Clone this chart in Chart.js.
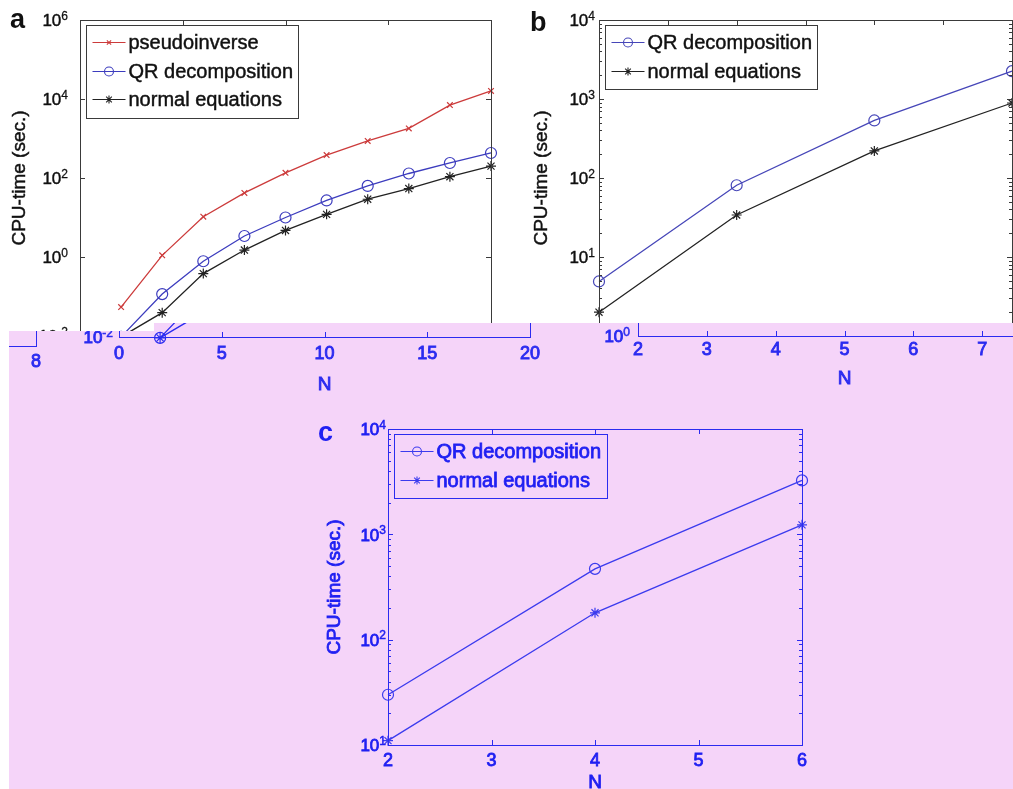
<!DOCTYPE html>
<html>
<head>
<meta charset="utf-8">
<script src="https://cdn.jsdelivr.net/npm/chart.js@4.4.0/dist/chart.umd.min.js"></script>
<style>
html, body { margin: 0; padding: 0; background: #fff; }
#page { position: relative; width: 1013px; height: 789px; overflow: hidden; background: #fff; }
#page canvas { position: absolute; }
#pink { position: absolute; left: 0; top: 0; width: 1013px; height: 789px; background: #f5d4f9;
  clip-path: polygon(154px 323px, 1013px 323px, 1013px 789px, 9px 789px, 9px 331px, 154px 331px); }
</style>
</head>
<body>
<div id="page">
  <canvas id="ca"></canvas>
  <canvas id="cb"></canvas>
  <div id="pink">
    <canvas id="ca2"></canvas>
    <canvas id="cb2"></canvas>
    <canvas id="cb3"></canvas>
    <canvas id="cc"></canvas>
  </div>
</div>
<script>
// panel a : N = 2..20
const nA = [2, 4, 6, 8, 10, 12, 14, 16, 18, 20];
const pinvA = [0.054, 1.1, 10.5, 42, 135, 380, 870, 1800, 7000, 16000];
const qrA = [0.0095, 0.115, 0.78, 3.4, 10, 27, 63, 130, 240, 430];
const normA = [0.0095, 0.039, 0.38, 1.5, 4.7, 12, 29, 54, 108, 200];
const xTicksA = [0, 5, 10, 15, 20];
const yTicksA = [1e-2, 1, 1e2, 1e4, 1e6];

// panel b : N = 2..8
const nB = [2, 4, 6, 8];
const qrB = [4.9, 81, 535, 2250];
const normB = [2.0, 34, 220, 890];
const xTicksB = [2, 3, 4, 5, 6, 7, 8];
const yTicksB = [1, 10, 100, 1000, 1e4];

// panel c : N = 2..6
const nC = [2, 4, 6];
const qrC = [30, 470, 3250];
const normC = [11, 180, 1230];
const xTicksC = [2, 3, 4, 5, 6];
const yTicksC = [10, 100, 1000, 1e4];

const FONT = '"Liberation Sans", Arial, Helvetica, sans-serif';
const PADL = 110, PADT = 40, PADR = 30, PADB = 70;
const BLUE = '#2b2bf0';
const panelCfg = {};

function pts(xs, ys) {
  return xs.map((x, i) => ({ x: x, y: ys[i] }));
}

function series(label, xs, ys, color, style, r) {
  return {
    label: label,
    data: pts(xs, ys),
    borderColor: color,
    backgroundColor: color,
    borderWidth: 1.3,
    pointStyle: style,
    pointRadius: r,
    pointBorderWidth: 1.2,
    pointBorderColor: color,
    pointBackgroundColor: 'rgba(0,0,0,0)',
    tension: 0,
    fill: false,
    clip: false
  };
}

// text with a thin outline so it reads as heavy as the scanned figure
function txt(ctx, s, x, y, heavy) {
  ctx.fillText(s, x, y);
  if (heavy > 0) {
    ctx.lineWidth = heavy;
    ctx.strokeStyle = ctx.fillStyle;
    ctx.strokeText(s, x, y);
  }
}

function drawPow(ctx, v, x, y, fs, col, heavy) {
  const es = String(Math.round(Math.log10(v)));
  ctx.fillStyle = col;
  ctx.textAlign = 'right';
  ctx.font = Math.round(fs * 0.7) + 'px ' + FONT;
  const ew = ctx.measureText(es).width;
  ctx.textBaseline = 'alphabetic';
  txt(ctx, es, x, y - 0.5, heavy * 0.6);
  ctx.font = fs + 'px ' + FONT;
  ctx.textBaseline = 'middle';
  txt(ctx, '10', x - ew, y + 1.5, heavy);
}

function marker(ctx, style, r, x, y) {
  ctx.fillStyle = 'rgba(0,0,0,0)';
  ctx.lineWidth = 1.1;
  Chart.helpers.drawPoint(ctx, { pointStyle: style, radius: r, rotation: 0, borderWidth: 1.1 }, x, y);
}

const boxPlugin = {
  id: 'matlabBox',
  afterDatasetsDraw(chart) {
    const p = panelCfg[chart.canvas.id];
    const ctx = chart.ctx, xs = chart.scales.x, ys = chart.scales.y, a = chart.chartArea;
    const ox = p.box.l - PADL, oy = p.box.t - PADT;
    ctx.save();
    ctx.lineWidth = 1;
    ctx.strokeStyle = p.frame;
    ctx.strokeRect(Math.round(a.left) + 0.5, Math.round(a.top) + 0.5,
      Math.round(a.right - a.left), Math.round(a.bottom - a.top));

    // inward ticks on all four sides
    ctx.beginPath();
    p.xTicks.forEach(v => {
      const x = Math.round(xs.getPixelForValue(v)) + 0.5;
      ctx.moveTo(x, a.bottom); ctx.lineTo(x, a.bottom - 5);
      ctx.moveTo(x, a.top); ctx.lineTo(x, a.top + 5);
    });
    p.yTicks.forEach(v => {
      const y = Math.round(ys.getPixelForValue(v)) + 0.5;
      ctx.moveTo(a.left, y); ctx.lineTo(a.left + 5, y);
      ctx.moveTo(a.right, y); ctx.lineTo(a.right - 5, y);
    });
    if (p.minor) {
      for (let d = p.yMin; d < p.yMax; d *= 10) {
        for (let k = 2; k <= 9; k++) {
          const y = Math.round(ys.getPixelForValue(k * d)) + 0.5;
          ctx.moveTo(a.left, y); ctx.lineTo(a.left + 3, y);
          ctx.moveTo(a.right, y); ctx.lineTo(a.right - 3, y);
        }
      }
    }
    ctx.stroke();

    // tick labels
    p.yTicks.forEach(v => drawPow(ctx, v, a.left - p.yGap, ys.getPixelForValue(v), 17, p.text, p.heavy));
    ctx.font = '18px ' + FONT;
    ctx.textAlign = 'center';
    ctx.textBaseline = 'middle';
    ctx.fillStyle = p.text;
    p.xTicks.forEach(v => txt(ctx, String(v), xs.getPixelForValue(v), a.bottom + p.xGap, p.heavy));

    // axis titles
    ctx.font = '19px ' + FONT;
    txt(ctx, 'N', (a.left + a.right) / 2, a.bottom + p.xTitle, p.heavy);
    ctx.save();
    ctx.translate(a.left - p.yTitle, (a.top + a.bottom) / 2);
    ctx.rotate(-Math.PI / 2);
    txt(ctx, 'CPU-time (sec.)', 0, 0, p.heavy);
    ctx.restore();

    // legend box
    if (p.legend) {
      const bx = Math.round(a.left) + 6.5, by = Math.round(a.top) + 5.5;
      ctx.strokeStyle = p.frame;
      ctx.lineWidth = 1;
      ctx.strokeRect(bx, by, p.legend.w, p.legend.h);
      chart.data.datasets.forEach((ds, i) => {
        const y = Math.round(a.top + 22 + i * 28.5) + 0.5;
        ctx.strokeStyle = ds.borderColor;
        ctx.lineWidth = 1.2;
        ctx.beginPath(); ctx.moveTo(bx + 6, y); ctx.lineTo(bx + 39, y); ctx.stroke();
        marker(ctx, ds.pointStyle, ds.pointRadius - 1, bx + 22.5, y);
        ctx.fillStyle = p.text;
        ctx.font = '20px ' + FONT;
        ctx.textAlign = 'left';
        ctx.textBaseline = 'middle';
        txt(ctx, ds.label, bx + 42, y + 1, p.heavy);
      });
    }

    // panel letter
    if (p.letter) {
      ctx.fillStyle = p.text;
      ctx.font = 'bold 27px ' + FONT;
      ctx.textAlign = 'left';
      ctx.textBaseline = 'alphabetic';
      ctx.fillText(p.letter[0], p.letter[1] - ox, p.letter[2] - oy);
    }
    ctx.restore();
  }
};

function panel(id, p) {
  panelCfg[id] = p;
  const cv = document.getElementById(id);
  const w = p.box.r - p.box.l + PADL + PADR;
  const h = p.box.b - p.box.t + PADT + PADB;
  cv.width = w; cv.height = h;
  cv.style.width = w + 'px'; cv.style.height = h + 'px';
  cv.style.left = (p.box.l - PADL) + 'px';
  cv.style.top = (p.box.t - PADT) + 'px';
  return new Chart(cv, {
    type: 'line',
    data: { datasets: p.datasets },
    options: {
      responsive: false,
      animation: false,
      devicePixelRatio: 1,
      layout: { padding: { left: 0, top: PADT, right: PADR, bottom: 0 } },
      scales: {
        x: {
          type: 'linear', min: p.xMin, max: p.xMax,
          grid: { display: false }, border: { display: false }, ticks: { display: false },
          afterFit(s) { s.height = PADB; }
        },
        y: {
          type: 'logarithmic', min: p.yMin, max: p.yMax,
          grid: { display: false }, border: { display: false }, ticks: { display: false },
          afterFit(s) { s.width = PADL; }
        }
      },
      plugins: { legend: { display: false }, tooltip: { enabled: false } }
    },
    plugins: [boxPlugin]
  });
}

function setA(colors) {
  return [
    series('pseudoinverse', nA, pinvA, colors[0], 'crossRot', 4),
    series('QR decomposition', nA, qrA, colors[1], 'circle', 5.5),
    series('normal equations', nA, normA, colors[2], 'star', 5)
  ];
}
function setB(colors, xs, qr, nm) {
  return [
    series('QR decomposition', xs, qr, colors[0], 'circle', 5.5),
    series('normal equations', xs, nm, colors[1], 'star', 5)
  ];
}

// a (black, white background)
panel('ca', {
  box: { l: 80, t: 20, r: 491, b: 336 },
  xMin: 0, xMax: 20, yMin: 1e-2, yMax: 1e6, xTicks: xTicksA, yTicks: yTicksA,
  datasets: setA(['#cc3b3b', '#3c3cbe', '#222222']),
  frame: '#3a3a3a', text: '#111111', minor: false, heavy: 0.45,
  yGap: 12, xGap: 17, xTitle: 48, yTitle: 60,
  legend: { w: 212, h: 93 }, letter: ['a', 10, 28]
});

// b (black, white background)
panel('cb', {
  box: { l: 599, t: 20, r: 1012, b: 336 },
  xMin: 2, xMax: 8, yMin: 1, yMax: 1e4, xTicks: xTicksB, yTicks: yTicksB,
  datasets: setB(['#4646b8', '#222222'], nB, qrB, normB),
  frame: '#3a3a3a', text: '#111111', minor: true, heavy: 0.45,
  yGap: 4, xGap: 15, xTitle: 43, yTitle: 57,
  legend: { w: 212, h: 64 }, letter: ['b', 530, 31]
});

// blue copy of a, seen through the pink band
panel('ca2', {
  box: { l: 119, t: 21, r: 530, b: 337 },
  xMin: 0, xMax: 20, yMin: 1e-2, yMax: 1e6, xTicks: xTicksA, yTicks: yTicksA,
  datasets: setA([BLUE, BLUE, BLUE]),
  frame: BLUE, text: BLUE, minor: false, heavy: 0.9,
  yGap: 6, xGap: 17, xTitle: 48, yTitle: 60, legend: null, letter: null
});

// blue copy of b
panel('cb2', {
  box: { l: 638, t: 20, r: 1051, b: 336 },
  xMin: 2, xMax: 8, yMin: 1, yMax: 1e4, xTicks: xTicksB, yTicks: yTicksB,
  datasets: setB([BLUE, BLUE], nB, qrB, normB),
  frame: BLUE, text: BLUE, minor: true, heavy: 0.9,
  yGap: 8, xGap: 14, xTitle: 43, yTitle: 57, legend: null, letter: null
});

// stray piece of another blue b copy at the far left
panel('cb3', {
  box: { l: -377, t: 30, r: 36, b: 346 },
  xMin: 2, xMax: 8, yMin: 1, yMax: 1e4, xTicks: xTicksB, yTicks: yTicksB,
  datasets: setB([BLUE, BLUE], nB, qrB, normB),
  frame: BLUE, text: BLUE, minor: true, heavy: 0.9,
  yGap: 8, xGap: 16, xTitle: 43, yTitle: 57, legend: null, letter: null
});

// c (blue on pink)
panel('cc', {
  box: { l: 388, t: 429, r: 802, b: 745 },
  xMin: 2, xMax: 6, yMin: 10, yMax: 1e4, xTicks: xTicksC, yTicks: yTicksC,
  datasets: setB(['#3b3bee', '#3b3bee'], nC, qrC, normC),
  frame: BLUE, text: '#2020f2', minor: true, heavy: 0.8,
  yGap: 2, xGap: 16, xTitle: 38, yTitle: 53,
  legend: { w: 213, h: 64 }, letter: ['c', 318, 441]
});
</script>
</body>
</html>
